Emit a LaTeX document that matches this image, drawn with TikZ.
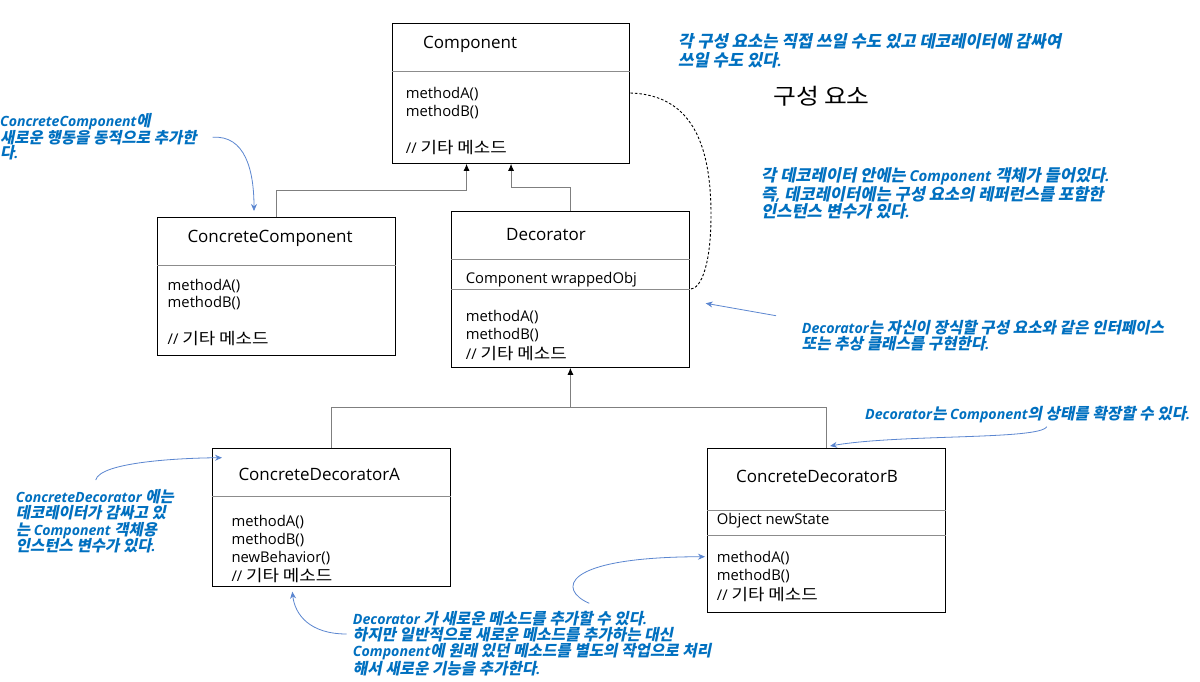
\documentclass[tikz,border=0pt]{standalone}
\usepackage{fontspec}
\setmainfont{Open Sans}
\newfontfamily\hangulreg{Noto Sans CJK KR}[Scale=1.08,FakeStretch=1.12]
\newfontfamily\hangulbifam{Noto Sans CJK KR}[Scale=1.1,FakeSlant=0.2,BoldFeatures={FakeSlant=0.2}]
\def\hangulbi{\hangulbifam\bfseries\upshape}
\def\hangulcur{\hangulreg}
\def\hangulon{\begingroup\hangulcur}
\def\hangulof{\endgroup}
\XeTeXinterchartokenstate=1
\newXeTeXintercharclass\HangulClass
\newcount\hgcnt
\hgcnt="AC00
\loop\ifnum\hgcnt<"D7A4 \XeTeXcharclass\hgcnt=\HangulClass\relax\advance\hgcnt by 1 \repeat
\XeTeXinterchartoks 0 \HangulClass = {\hangulon}
\XeTeXinterchartoks 4095 \HangulClass = {\hangulon}
\XeTeXinterchartoks \HangulClass 0 = {\hangulof}
\XeTeXinterchartoks \HangulClass 4095 = {\hangulof}
\usetikzlibrary{arrows.meta}
\definecolor{annblue}{HTML}{0070C0}
\definecolor{arrblue}{HTML}{5B86D0}
\definecolor{divgray}{HTML}{8C8C8C}
\definecolor{linegray}{HTML}{7F7F7F}
\begin{document}
\begin{tikzpicture}[x=1pt,y=-1pt,
  umlbox/.style={draw=black,line width=1.1pt,anchor=north west,inner sep=0pt},
  divline/.style={draw=divgray,line width=0.9pt},
  ttl/.style={anchor=west,inner sep=0pt,font=\fontsize{17}{20}\selectfont},
  mth/.style={anchor=west,inner sep=0pt,font=\fontsize{14.8}{18}\selectfont},
  ann/.style n args={2}{anchor=north west,inner sep=0pt,align=left,text=annblue,
    font=\let\hangulcur\hangulbi\bfseries\itshape\fontsize{#1}{#2}\selectfont},
  inh/.style={draw=linegray,line width=0.9pt,-{Latex[length=7pt,width=6pt,fill=black,color=black]}},
  note/.style={draw=arrblue,line width=0.8pt,-{Stealth[length=7pt,width=6pt]}},
  dashlink/.style={draw=black,line width=0.9pt,dash pattern=on 2.5pt off 2pt}
]
\useasboundingbox (0,0) rectangle (1200,681);
\fill[white] (0,0) rectangle (1200,681);

% ---------- Component ----------
\node[umlbox,minimum width=237.6pt,minimum height=139.4pt] (comp) at (391.7,23.3) {};
\draw[divline] (comp.west |- 0,71) -- (comp.east |- 0,71);
\node[ttl] (compT) at (423,44) {Component};
\node[mth] (compA) at (405.7,94) {methodA()};
\node[mth] (compB) at (405.7,112) {methodB()};
\node[mth] (compC) at (405.7,148) {// 기타 메소드};

% ---------- ConcreteComponent ----------
\node[umlbox,minimum width=238pt,minimum height=137.7pt] (cc) at (157.3,217.3) {};
\draw[divline] (cc.west |- 0,265) -- (cc.east |- 0,265);
\node[ttl] (ccT) at (187.3,238.3) {ConcreteComponent};
\node[mth] (ccA) at (167.5,285.7) {methodA()};
\node[mth] (ccB) at (167.5,303.3) {methodB()};
\node[mth] (ccC) at (167.5,339) {// 기타 메소드};

% ---------- Decorator ----------
\node[umlbox,minimum width=237.7pt,minimum height=155.7pt] (dec) at (451,211) {};
\draw[divline] (dec.west |- 0,259.3) -- (dec.east |- 0,259.3);
\draw[divline] (dec.west |- 0,289.3) -- (dec.east |- 0,289.3);
\node[ttl] (decT) at (506,235) {Decorator};
\node[mth] (decF) at (465.7,280) {Component wrappedObj};
\node[mth] (decA) at (465.7,316.7) {methodA()};
\node[mth] (decB) at (465.7,335) {methodB()};
\node[mth] (decC) at (465.7,353.3) {// 기타 메소드};

% ---------- ConcreteDecoratorA ----------
\node[umlbox,minimum width=238pt,minimum height=137.4pt] (cda) at (212,448.3) {};
\draw[divline] (cda.west |- 0,496) -- (cda.east |- 0,496);
\node[ttl] (cdaT) at (238.3,474.3) {ConcreteDecoratorA};
\node[mth] (cdaA) at (231.3,521.7) {methodA()};
\node[mth] (cdaB) at (231.3,540) {methodB()};
\node[mth] (cdaN) at (231.3,558.3) {newBehavior()};
\node[mth] (cdaC) at (231.3,576) {// 기타 메소드};

% ---------- ConcreteDecoratorB ----------
\node[umlbox,minimum width=237.7pt,minimum height=164pt] (cdb) at (707.3,448.3) {};
\draw[divline] (cdb.west |- 0,510) -- (cdb.east |- 0,510);
\draw[divline] (cdb.west |- 0,535) -- (cdb.east |- 0,535);
\node[ttl] (cdbT) at (736,476.7) {ConcreteDecoratorB};
\node[mth] (cdbF) at (716.7,520.7) {Object newState};
\node[mth] (cdbA) at (716.7,557.7) {methodA()};
\node[mth] (cdbB) at (716.7,575.7) {methodB()};
\node[mth] (cdbC) at (716.7,594.3) {// 기타 메소드};

% ---------- inheritance connectors ----------
\draw[inh] (cc.north) -- (cc.north |- 0,190) -| ([xshift=-44.5pt]comp.south);
\draw[inh] (dec.north) -- (dec.north |- 0,187.7) -| (comp.south);
\draw[linegray,line width=0.9pt] (cda.north) -- (cda.north |- 0,407.3) -- (cdb.north |- 0,407.3) -- (cdb.north);
\coordinate (junc) at (dec.south |- 0,407.3);
\draw[inh] (junc) -- (dec.south);

% ---------- dashed wrapping link ----------
\coordinate (wrapEnd) at (dec.east |- 0,289.3);
\draw[dashlink] (comp.east |- 0,93) .. controls (695,95) and (711,150) .. (711,215)
  .. controls (711,262) and (702,289) .. (wrapEnd);

% ---------- annotations ----------
\node[ann={15.1}{19}] (n1) at (678,33.5) {각 구성 요소는 직접 쓰일 수도 있고 데코레이터에 감싸여\\쓰일 수도 있다.};
\node[anchor=west,inner sep=0pt,font=\fontsize{20.5}{24}\selectfont] (n2) at (773,96.7) {구성 요소};
\node[ann={15}{17.5}] (n3) at (761,167.5) {각 데코레이터 안에는 Component 객체가 들어있다.\\즉, 데코레이터에는 구성 요소의 레퍼런스를 포함한\\인스턴스 변수가 있다.};
\node[ann={14.2}{16}] (n4) at (801.7,320) {Decorator는 자신이 장식할 구성 요소와 같은 인터페이스\\또는 추상 클래스를 구현한다.};
\node[ann={14.2}{16}] (n5) at (865,406) {Decorator는 Component의 상태를 확장할 수 있다.};
\node[ann={14.1}{15}] (n6) at (0,113) {ConcreteComponent에\\새로운 행동을 동적으로 추가한\\다.};
\node[ann={14.1}{16.5}] (n7) at (15.7,489) {ConcreteDecorator 에는\\데코레이터가 감싸고 있\\는 Component 객체용\\인스턴스 변수가 있다.};
\node[ann={14.2}{16.2}] (n8) at (352.7,611) {Decorator 가 새로운 메소드를 추가할 수 있다.\\하지만 일반적으로 새로운 메소드를 추가하는 대신\\Component에 원래 있던 메소드를 별도의 작업으로 처리\\해서 새로운 기능을 추가한다.};

% ---------- annotation arrows ----------
\coordinate (t4) at (705.7,303.3);
\draw[note] (776,315.7) -- (t4);
\coordinate (t5) at (830,446);
\draw[note] (1046.7,426.7) .. controls (1040,440) and (900,434) .. (t5);
\coordinate (t6) at (254,211);
\draw[note] (212.7,137.3) .. controls (245,135) and (254,170) .. (t6);
\coordinate (t7) at (222,457.7);
\draw[note] (95.7,480) .. controls (100,462) and (180,458) .. (t7);
\coordinate (t8a) at (292.3,591.7);
\draw[note] (346.7,634) .. controls (310,634) and (295,615) .. (t8a);
\coordinate (t8b) at (705,556.7);
\draw[note] (589.3,603.3) .. controls (558,590) and (560,557) .. (t8b);
\end{tikzpicture}
\end{document}
